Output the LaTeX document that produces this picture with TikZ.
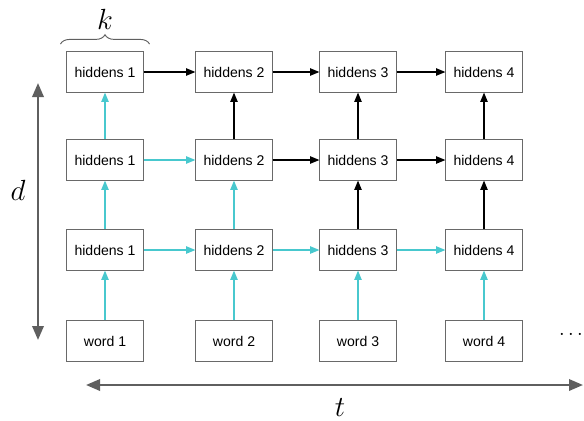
\documentclass[tikz,border=0pt]{standalone}
\usepackage{fontspec}
\setsansfont{Liberation Sans}
\usetikzlibrary{positioning,arrows.meta,decorations.pathreplacing}
\definecolor{boxgray}{RGB}{105,105,105}
\definecolor{tealline}{RGB}{72,200,206}
\definecolor{axisgray}{RGB}{95,95,95}

\begin{document}
\begin{tikzpicture}[
    x=0.03cm, y=-0.03cm,
    cell/.style={rectangle, draw=boxgray, fill=white, minimum width=2.3cm, minimum height=1.22cm, font=\sffamily\fontsize{12}{14}\selectfont},
    flow/.style={-{Triangle[length=0.28cm,width=0.22cm]}, line width=1.1pt, draw=black},
    seen/.style={flow, draw=tealline},
    axis/.style={{Triangle[length=0.42cm,width=0.34cm]}-{Triangle[length=0.42cm,width=0.34cm]}, line width=2pt, draw=axisgray},
    letter/.style={font=\fontsize{26}{30}\selectfont}
]
    \useasboundingbox (0,0) rectangle (584,421);

    % grid of cells
    \foreach \c/\x in {1/105,2/234,3/358,4/484}{
        \node [cell] (h1-\c) at (\x,72) {hiddens \c};
        \node [cell] (h2-\c) at (\x,160) {hiddens \c};
        \node [cell] (h3-\c) at (\x,250) {hiddens \c};
        \node [cell] (w-\c) at (\x,341) {word \c};
    }
    \node [font=\fontsize{18}{20}\selectfont, inner sep=0pt, anchor=east] (dots) at (583,335) {$\cdots$};

    % inputs
    \foreach \c in {1,...,4}
        \draw [seen] (w-\c) -- (h3-\c);

    % vertical links
    \draw [seen] (h3-1) -- (h2-1);
    \draw [seen] (h2-1) -- (h1-1);
    \draw [seen] (h3-2) -- (h2-2);
    \draw [flow] (h2-2) -- (h1-2);
    \foreach \c in {3,4}{
        \draw [flow] (h3-\c) -- (h2-\c);
        \draw [flow] (h2-\c) -- (h1-\c);
    }

    % horizontal links
    \draw [seen] (h3-1) -- (h3-2);
    \draw [seen] (h3-2) -- (h3-3);
    \draw [seen] (h3-3) -- (h3-4);
    \draw [seen] (h2-1) -- (h2-2);
    \draw [flow] (h2-2) -- (h2-3);
    \draw [flow] (h2-3) -- (h2-4);
    \draw [flow] (h1-1) -- (h1-2);
    \draw [flow] (h1-2) -- (h1-3);
    \draw [flow] (h1-3) -- (h1-4);

    % axes
    \coordinate (dtop) at (38,83);
    \coordinate (dbot) at (38,340);
    \coordinate (tleft) at (86,385);
    \coordinate (tright) at (583,385);
    \draw [axis] (dtop) -- (dbot);
    \draw [axis] (tleft) -- (tright);
    \node [letter] (dlabel) at (18,190) {$d$};
    \node [letter] (tlabel) at (340,408) {$t$};

    % brace over first cell
    \draw [decorate, decoration={brace, amplitude=8pt}, axisgray, line width=0.8pt]
        ([xshift=-0.18cm,yshift=0.22cm]h1-1.north west) -- ([xshift=0.18cm,yshift=0.22cm]h1-1.north east);
    \node [letter] (klabel) at (105,19) {$k$};
\end{tikzpicture}
\end{document}
